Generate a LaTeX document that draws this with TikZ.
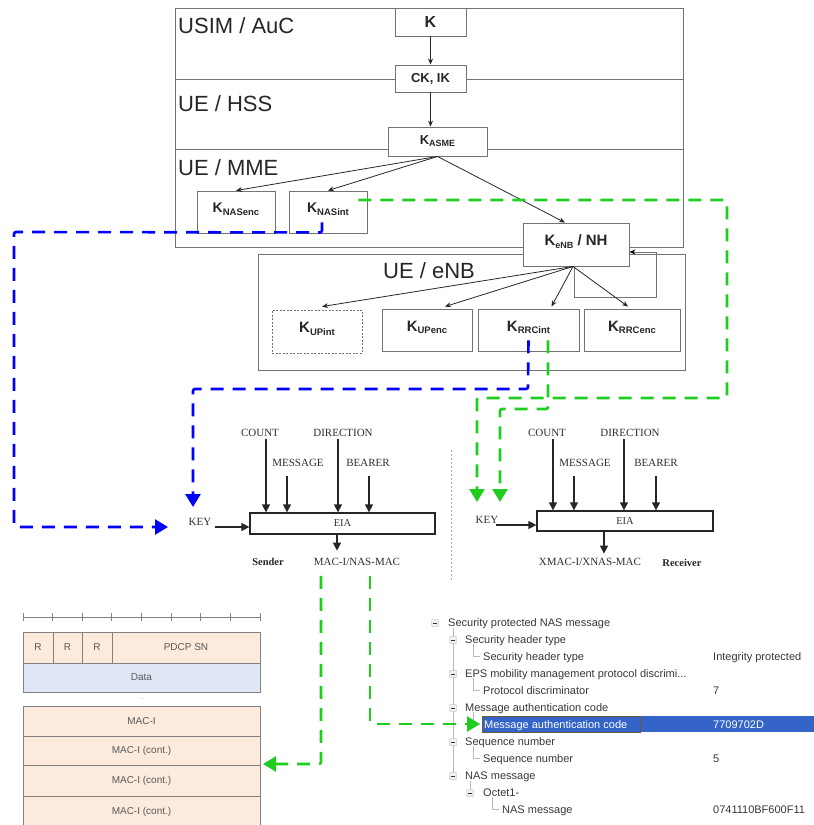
\documentclass[tikz,border=0pt]{standalone}
\usepackage{fontspec}
\setmainfont{Liberation Serif}
\setsansfont{Liberation Sans}
\usetikzlibrary{arrows.meta,calc}

\definecolor{dashblue}{RGB}{0,0,255}
\definecolor{dashgreen}{RGB}{30,205,30}
\definecolor{boxgray}{RGB}{115,115,115}
\definecolor{peach}{RGB}{252,234,220}
\definecolor{paleblue}{RGB}{222,231,243}
\definecolor{cellline}{RGB}{130,130,130}
\definecolor{selblue}{RGB}{52,100,200}
\definecolor{treetext}{RGB}{55,55,55}
\definecolor{focusline}{RGB}{105,90,60}

% key name with a small lowered index
\newcommand{\ksub}[2]{K\raisebox{-0.3ex}{\fontsize{#1}{#1}\selectfont #2}}

\tikzset{
  zone/.style={draw=boxgray, line width=0.9pt},
  zonelabel/.style={font=\sffamily\fontsize{22}{22}\selectfont, text=black!85, inner sep=0pt, anchor=base west},
  keybox/.style={draw=boxgray, fill=white, line width=0.9pt, inner sep=0pt,
    font=\sffamily\bfseries\fontsize{14}{14}\selectfont, text=black!85},
  liftedtext/.style={text depth=8pt},
  derive/.style={-{Stealth[length=6pt,width=5pt]}, line width=0.8pt, black!85},
  loopline/.style={draw=boxgray, line width=0.9pt, -{Stealth[length=6pt,width=5pt,black]}},
  blueflow/.style={draw=dashblue, line width=2.6pt, dash pattern=on 13pt off 9pt,
    rounded corners=2pt, -{Triangle[length=13pt,width=15pt]}},
  greenflow/.style={draw=dashgreen, line width=2.6pt, dash pattern=on 13pt off 9pt,
    rounded corners=2pt, -{Triangle[length=13pt,width=15pt]}},
  eiabox/.style={draw=black!85, line width=1.3pt, fill=white, inner sep=0pt,
    font=\fontsize{10.5}{10.5}\selectfont, text=black!80},
  eialabel/.style={font=\fontsize{11}{12}\selectfont, text=black!82, inner sep=1pt},
  eiarole/.style={font=\bfseries\fontsize{10.5}{11}\selectfont, text=black!85, inner sep=1pt},
  eiaarrow/.style={-{Triangle[length=8pt,width=8pt]}, line width=1.3pt, black!85},
  cell/.style={draw=cellline, line width=1pt, fill=peach, inner sep=0pt,
    font=\sffamily\fontsize{10}{10}\selectfont, text=black!65},
  datacell/.style={cell, fill=paleblue},
  treeitem/.style={font=\sffamily\fontsize{11}{12}\selectfont, text=treetext, inner sep=0pt, anchor=base west},
  treeicon/.style={draw=gray!65, fill=gray!12, minimum size=7pt, inner sep=0pt, rounded corners=0.8pt,
    path picture={\draw[gray!40!black, line width=0.7pt]
      ([xshift=1.6pt]path picture bounding box.west) -- ([xshift=-1.6pt]path picture bounding box.east);}},
  treeline/.style={draw=gray!55, line width=0.6pt},
}

\begin{document}
\begin{tikzpicture}[x=1pt, y=-1pt]
\useasboundingbox (0,0) rectangle (814,825);

% ---------- key hierarchy: zones ----------
\draw[zone] (175,8) rectangle (683,247);
\draw[zone] (175,79) -- (683,79);
\draw[zone] (175,149) -- (683,149);
\draw[zone] (258,254) rectangle (685,370);

\node[zonelabel] (lusim) at (178,33) {USIM / AuC};
\node[zonelabel] (lhss)  at (178,111) {UE / HSS};
\node[zonelabel] (lmme)  at (178,175) {UE / MME};
\node[zonelabel] (lenb)  at (383,278) {UE / eNB};

% ---------- key boxes ----------
\node[keybox, minimum width=71pt, minimum height=28pt, font=\sffamily\bfseries\fontsize{16}{16}\selectfont] (k) at (430.5,22) {K};
\node[keybox, minimum width=71pt, minimum height=27pt, font=\sffamily\bfseries\fontsize{13}{13}\selectfont] (ck) at (430.5,78.5) {CK, IK};
\node[keybox, minimum width=99pt, minimum height=29pt, font=\sffamily\bfseries\fontsize{13}{13}\selectfont] (kasme) at (437.5,141.5) {\ksub{9}{ASME}};
\node[keybox, liftedtext, minimum width=78pt, minimum height=42pt] (nasenc) at (236,212) {\ksub{9.5}{NASenc}};
\node[keybox, liftedtext, minimum width=78pt, minimum height=42pt] (nasint) at (328,212) {\ksub{9.5}{NASint}};

% feedback loop of K_eNB / NH (drawn below the box)
\coordinate (loopcorner) at (656,297);
\node[keybox, liftedtext, minimum width=106pt, minimum height=43pt, font=\sffamily\bfseries\fontsize{15}{15}\selectfont] (kenb) at (576,244.5) {\ksub{9}{eNB} / NH};
\draw[loopline] ([xshift=-2pt]kenb.south) |- (loopcorner) |- ([yshift=-7.5pt]kenb.east);

\node[keybox, liftedtext, dashed, dash pattern=on 2pt off 1.5pt, minimum width=90pt, minimum height=43pt, font=\sffamily\bfseries\fontsize{15}{15}\selectfont] (upint) at (317,331.5) {\ksub{9.5}{UPint}};
\node[keybox, liftedtext, minimum width=90pt, minimum height=42pt, font=\sffamily\bfseries\fontsize{15}{15}\selectfont] (upenc) at (427,330) {\ksub{9.5}{UPenc}};
\node[keybox, liftedtext, minimum width=101pt, minimum height=42pt, font=\sffamily\bfseries\fontsize{15}{15}\selectfont] (rrcint) at (528.5,330) {\ksub{9.5}{RRCint}};
\node[keybox, liftedtext, minimum width=96pt, minimum height=42pt, font=\sffamily\bfseries\fontsize{15}{15}\selectfont] (rrcenc) at (632,330) {\ksub{9.5}{RRCenc}};

% ---------- derivation arrows ----------
\draw[derive] (k) -- (ck);
\draw[derive] (ck.south) -- (ck.south |- kasme.north);
\draw[derive] (kasme.south) -- (nasenc.north);
\draw[derive] (kasme.south) -- (nasint.north);
\draw[derive] (kasme.south) -- ([xshift=-11pt]kenb.north);
\draw[derive] ([xshift=-3pt]kenb.south) -- ([xshift=5pt,yshift=3pt]upint.north);
\draw[derive] ([xshift=-3pt]kenb.south) -- ([xshift=18pt,yshift=2pt]upenc.north);
\draw[derive] ([xshift=-3pt]kenb.south) -- ([xshift=23pt,yshift=2pt]rrcint.north);
\draw[derive] ([xshift=-3pt]kenb.south) -- ([xshift=-4pt,yshift=2pt]rrcenc.north);

% ---------- EIA sender ----------
\node[eiabox, minimum width=185pt, minimum height=21pt] (seia) at (342.5,523.5) {EIA};
\node[eialabel] (scount) at (260,433) {COUNT};
\node[eialabel] (smsg)   at (298,463) {MESSAGE};
\node[eialabel] (sdir)   at (343,433) {DIRECTION};
\node[eialabel] (sbear)  at (368,463) {BEARER};
\node[eialabel] (skey)   at (200,522) {KEY};
\node[eiarole]  (srole)  at (268,562) {Sender};
\node[eialabel] (smac)   at (357,562) {MAC-I/NAS-MAC};

\draw[eiaarrow] ([xshift=6pt,yshift=-1pt]scount.south) -- ([xshift=6pt]scount.south |- seia.north);
\draw[eiaarrow] ([xshift=-11pt,yshift=-8pt]smsg.south) -- ([xshift=-11pt]smsg.south |- seia.north);
\draw[eiaarrow] ([xshift=-5pt,yshift=-1pt]sdir.south) -- ([xshift=-5pt]sdir.south |- seia.north);
\draw[eiaarrow] ([xshift=1pt,yshift=-8pt]sbear.south) -- ([xshift=1pt]sbear.south |- seia.north);
\draw[eiaarrow] ([xshift=2pt,yshift=-5pt]skey.east) -- ([yshift=-3.5pt]seia.west);
\draw[eiaarrow] ([xshift=-5.5pt]seia.south) -- ([xshift=-5.5pt,yshift=-16pt]seia.south);

% ---------- EIA receiver ----------
\node[eiabox, minimum width=176pt, minimum height=20pt] (reia) at (625,521) {EIA};
\node[eialabel] (rcount) at (547,433) {COUNT};
\node[eialabel] (rmsg)   at (585,463) {MESSAGE};
\node[eialabel] (rdir)   at (630,433) {DIRECTION};
\node[eialabel] (rbear)  at (656,463) {BEARER};
\node[eialabel] (rkey)   at (487,520) {KEY};
\node[eialabel] (rmac)   at (590,562) {XMAC-I/XNAS-MAC};
\node[eiarole]  (rrole)  at (682,563) {Receiver};

\draw[eiaarrow] ([xshift=6pt,yshift=-1pt]rcount.south) -- ([xshift=6pt]rcount.south |- reia.north);
\draw[eiaarrow] ([xshift=-11pt,yshift=-8pt]rmsg.south) -- ([xshift=-11pt]rmsg.south |- reia.north);
\draw[eiaarrow] ([xshift=-6pt,yshift=-1pt]rdir.south) -- ([xshift=-6pt]rdir.south |- reia.north);
\draw[eiaarrow] ([xshift=0pt,yshift=-8pt]rbear.south) -- ([xshift=0pt]rbear.south |- reia.north);
\draw[eiaarrow] ([xshift=-4pt,yshift=-5pt]rkey.east) -- ([yshift=-4pt]reia.west);
\draw[eiaarrow] ([xshift=-21pt]reia.south) -- ([xshift=-21pt,yshift=-22pt]reia.south);

% separator between sender and receiver
\coordinate (septop) at (451,450);
\coordinate (sepbot) at (451,580);
\draw[gray!70, line width=0.8pt, dash pattern=on 2pt off 2pt] (septop) -- (sepbot);

% ---------- PDCP PDU layout ----------
\coordinate (rulerl) at (23,617);
\coordinate (rulerr) at (260,617);
\draw[cellline, line width=0.9pt] (rulerl) -- (rulerr);
\foreach \i in {0,...,8}
  \draw[cellline, line width=0.9pt] ($(rulerl)!\i/8!(rulerr)+(0,-4)$) -- ++(0,8);

\node[cell, minimum width=30pt, minimum height=31pt] (r1) at (38,647.5) {R};
\node[cell, minimum width=29pt, minimum height=31pt] (r2) at (67.5,647.5) {R};
\node[cell, minimum width=30pt, minimum height=31pt] (r3) at (97,647.5) {R};
\node[cell, minimum width=148pt, minimum height=31pt] (sn) at (186,647.5) {PDCP SN};
\node[datacell, minimum width=237pt, minimum height=29pt] (data) at (141.5,677.5) {Data};
\node[font=\sffamily\fontsize{6}{6}\selectfont, text=gray!70, inner sep=0pt] (gap) at (141.5,699) {...};
\node[cell, minimum width=237pt, minimum height=30pt] (mac1) at (141.5,721) {MAC-I};
\node[cell, minimum width=237pt, minimum height=29pt] (mac2) at (141.5,750.5) {MAC-I (cont.)};
\node[cell, minimum width=237pt, minimum height=31pt] (mac3) at (141.5,780.5) {MAC-I (cont.)};
\node[cell, minimum width=237pt, minimum height=32pt] (mac4) at (141.5,812) {MAC-I (cont.)};

% ---------- NAS message tree ----------
\fill[selblue] (482,716) rectangle (814,732);
\draw[focusline, line width=0.9pt] (482,716) rectangle (640,732);

\draw[treeline] (453,628) -- (453,775);
\foreach \y in {656,690,724,758}
  \draw[treeline] (473,\y-12) |- (480,\y);
\draw[treeline] (470,781) -- (470,789);
\draw[treeline] (492,797) |- (499,809);

\node[treeicon] (i0)  at (435,623) {};
\node[treeicon] (i1)  at (453,640) {};
\node[treeicon] (i3)  at (453,674) {};
\node[treeicon] (i5)  at (453,708) {};
\node[treeicon] (i7)  at (453,742) {};
\node[treeicon] (i9)  at (453,776) {};
\node[treeicon] (i10) at (470,793) {};

\node[treeitem] (t0)  at (448,626) {Security protected NAS message};
\node[treeitem] (t1)  at (465,643) {Security header type};
\node[treeitem] (t2)  at (483,660) {Security header type};
\node[treeitem] (t3)  at (465,677) {EPS mobility management protocol discrimi...};
\node[treeitem] (t4)  at (483,694) {Protocol discriminator};
\node[treeitem] (t5)  at (465,711) {Message authentication code};
\node[treeitem, text=white] (t6) at (484,728) {Message authentication code};
\node[treeitem] (t7)  at (465,745) {Sequence number};
\node[treeitem] (t8)  at (483,762) {Sequence number};
\node[treeitem] (t9)  at (465,779) {NAS message};
\node[treeitem] (t10) at (483,796) {Octet1-};
\node[treeitem] (t11) at (502,813) {NAS message};

\node[treeitem] (v2)  at (713,660) {Integrity protected};
\node[treeitem] (v4)  at (713,694) {7};
\node[treeitem, text=white] (v6) at (713,728) {7709702D};
\node[treeitem] (v8)  at (713,762) {5};
\node[treeitem] (v11) at (713,813) {0741110BF600F11};

% ---------- key hand-over flows ----------
\coordinate (bluekeyin)  at (168,527);
\coordinate (bluekeytop) at (193,507);
\coordinate (greenkeya)  at (477,502);
\coordinate (greenkeyb)  at (500,502);
\coordinate (macout)     at (263,764);
\coordinate (nasmacin)   at (480,724);

\draw[blueflow] ([xshift=-6pt,yshift=11pt]nasint.south) -- ++(0,10) -- (14,232) -- (14,527) -- (bluekeyin);
\draw[blueflow] ([yshift=11pt]rrcint.south) -- (528,389) -- (193,389) -- (bluekeytop);
\draw[greenflow] ([xshift=-9pt,yshift=12pt]nasint.east) -- (727,200) -- (727,398) -- (477,398) -- (greenkeya);
\draw[greenflow] ([xshift=19.5pt,yshift=11pt]rrcint.south) -- (548,409) -- (500,409) -- (greenkeyb);

% ---------- MAC placement flows ----------
\draw[greenflow] ([xshift=-36pt,yshift=-9pt]smac.south) -- (321,764) -- (macout);
\draw[greenflow] ([xshift=13pt,yshift=-9pt]smac.south) -- (370,724) -- (nasmacin);

\end{tikzpicture}
\end{document}
